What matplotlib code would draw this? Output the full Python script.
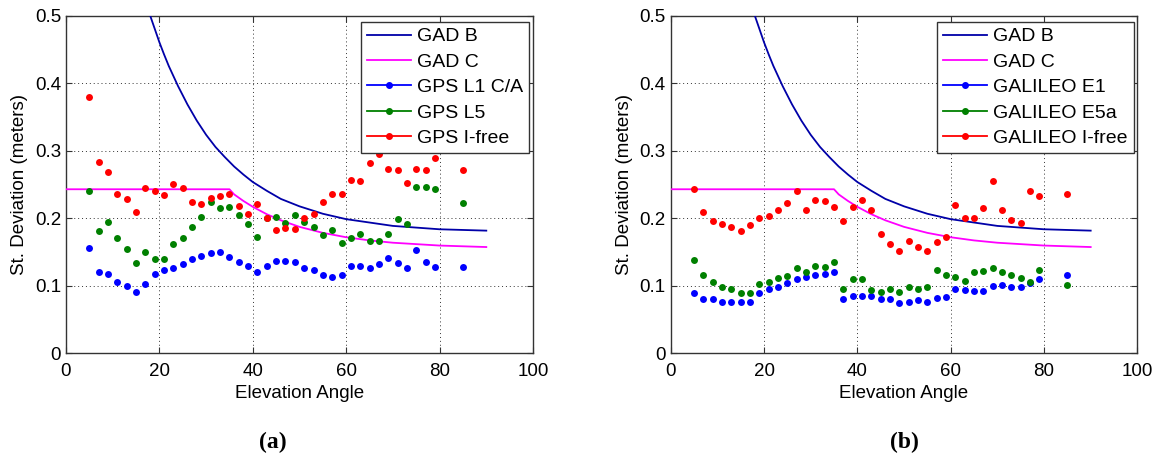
import matplotlib.pyplot as plt
from matplotlib.lines import Line2D

plt.rcParams['font.family'] = ['Liberation Sans', 'DejaVu Sans']

# elevation angles of the measured points (deg)
elev = [5, 7, 9, 11, 13, 15, 17, 19, 21, 23, 25, 27, 29, 31, 33, 35, 37, 39, 41,
        43, 45, 47, 49, 51, 53, 55, 57, 59, 61, 63, 65, 67, 69, 71, 73, 75, 77, 79, 85]

# (a) GPS
gps_l1 = [0.157, 0.120, 0.118, 0.106, 0.100, 0.091, 0.103, 0.118, 0.123, 0.126,
          0.133, 0.140, 0.145, 0.149, 0.150, 0.143, 0.135, 0.129, 0.121, 0.130,
          0.137, 0.137, 0.135, 0.127, 0.123, 0.117, 0.113, 0.117, 0.129, 0.129,
          0.126, 0.133, 0.141, 0.134, 0.126, 0.154, 0.136, 0.128, 0.128]
gps_l5 = [0.240, 0.182, 0.195, 0.171, 0.155, 0.134, 0.150, 0.140, 0.140, 0.162,
          0.171, 0.188, 0.202, 0.225, 0.216, 0.217, 0.205, 0.192, 0.172, 0.200,
          0.202, 0.194, 0.205, 0.195, 0.187, 0.176, 0.183, 0.163, 0.171, 0.177,
          0.167, 0.166, 0.177, 0.199, 0.192, 0.246, 0.246, 0.243, 0.223]
gps_ifree = [0.380, 0.283, 0.269, 0.237, 0.229, 0.209, 0.245, 0.241, 0.235, 0.251,
             0.245, 0.225, 0.221, 0.231, 0.234, 0.237, 0.219, 0.207, 0.222, 0.200,
             0.183, 0.186, 0.185, 0.200, 0.207, 0.225, 0.236, 0.237, 0.257, 0.255,
             0.282, 0.295, 0.274, 0.272, 0.252, 0.274, 0.272, 0.290, 0.272]

# (b) Galileo
gal_e1 = [0.089, 0.081, 0.080, 0.076, 0.076, 0.076, 0.077, 0.090, 0.096, 0.099,
          0.104, 0.111, 0.113, 0.116, 0.118, 0.120, 0.081, 0.085, 0.085, 0.085,
          0.081, 0.081, 0.075, 0.077, 0.079, 0.077, 0.082, 0.084, 0.096, 0.094,
          0.093, 0.093, 0.100, 0.102, 0.099, 0.098, 0.104, 0.110, 0.116]
gal_e5a = [0.139, 0.116, 0.106, 0.098, 0.095, 0.090, 0.089, 0.103, 0.106, 0.112,
           0.115, 0.127, 0.121, 0.130, 0.128, 0.135, 0.096, 0.111, 0.111, 0.094,
           0.091, 0.095, 0.091, 0.099, 0.095, 0.099, 0.123, 0.116, 0.114, 0.108,
           0.120, 0.122, 0.126, 0.121, 0.117, 0.112, 0.106, 0.124, 0.102]
gal_ifree = [0.244, 0.210, 0.197, 0.192, 0.188, 0.182, 0.191, 0.201, 0.204, 0.212,
             0.223, 0.241, 0.212, 0.227, 0.226, 0.217, 0.196, 0.217, 0.228, 0.212,
             0.177, 0.162, 0.152, 0.166, 0.158, 0.152, 0.165, 0.172, 0.220, 0.200,
             0.200, 0.216, 0.255, 0.213, 0.198, 0.194, 0.241, 0.233, 0.236]

# GAD reference curves
gad_b_elev = [18, 19, 20, 21, 22, 23, 24, 26, 28, 30, 32, 34, 36, 38, 40, 43, 46,
              50, 55, 60, 65, 70, 80, 90]
gad_b = [0.501, 0.481, 0.461, 0.443, 0.426, 0.411, 0.396, 0.369, 0.345, 0.324,
         0.306, 0.291, 0.277, 0.265, 0.254, 0.241, 0.229, 0.218, 0.207, 0.199,
         0.194, 0.189, 0.184, 0.182]
gad_c_elev = [0, 35, 36, 38, 40, 43, 46, 50, 55, 60, 65, 70, 80, 90]
gad_c = [0.2433, 0.2433, 0.2357, 0.2259, 0.2173, 0.2063, 0.1973, 0.1876, 0.1787,
         0.1722, 0.1675, 0.1641, 0.1599, 0.1577]

panels = [
    ([0.0567, 0.2231, 0.4012, 0.7418], (gps_l1, gps_l5, gps_ifree),
     ['GPS L1 C/A', 'GPS L5', 'GPS I-free'], '(a)', 0.234),
    ([0.5762, 0.2231, 0.4009, 0.7418], (gal_e1, gal_e5a, gal_ifree),
     ['GALILEO E1', 'GALILEO E5a', 'GALILEO I-free'], '(b)', 0.777),
]
colors = ['#0000ff', '#008000', '#ff0000']
gad_b_col = '#0000a8'
gad_c_col = '#ff00ff'

fig = plt.figure(figsize=(11.64, 4.55), dpi=100)

for rect, series, names, tag, tag_x in panels:
    ax = fig.add_axes(rect)
    ax.plot(gad_b_elev, gad_b, color=gad_b_col, lw=1.3, zorder=3)
    ax.plot(gad_c_elev, gad_c, color=gad_c_col, lw=1.3, zorder=3)
    for vals, c in zip(series, colors):
        ax.plot(elev, vals, 'o', color=c, ms=5, mec='none', zorder=4)

    ax.set_xlim(0, 100)
    ax.set_ylim(0, 0.5)
    ax.set_xticks([0, 20, 40, 60, 80, 100])
    ax.set_yticks([0, 0.1, 0.2, 0.3, 0.4, 0.5])
    ax.set_yticklabels(['0', '0.1', '0.2', '0.3', '0.4', '0.5'])
    ax.grid(True, ls=(0, (1, 3)), color='#333333', lw=0.7)
    ax.tick_params(direction='in', top=True, right=True, labelsize=13.5,
                   length=4, color='#333333')
    ax.tick_params(axis='x', pad=6.5)
    for s in ax.spines.values():
        s.set_color('#333333')
        s.set_linewidth(1.0)
    ax.set_xlabel('Elevation Angle', fontsize=13.5, labelpad=4)
    ax.set_ylabel('St. Deviation (meters)', fontsize=13.5, labelpad=5)

    handles = [Line2D([], [], color=gad_b_col, lw=1.3),
               Line2D([], [], color=gad_c_col, lw=1.3)]
    handles += [Line2D([], [], color=c, lw=1.3, marker='o', ms=4) for c in colors]
    leg = ax.legend(handles, ['GAD B', 'GAD C'] + names, loc='upper right',
                    bbox_to_anchor=(0.992, 0.982), borderaxespad=0, fontsize=14,
                    fancybox=False, framealpha=1, edgecolor='#333333',
                    handlelength=2.3, handletextpad=0.3, labelspacing=0.4,
                    borderpad=0.3)
    leg.get_frame().set_linewidth(1.0)

    fig.text(tag_x, 0.028, tag, ha='center', va='center', fontsize=17,
             fontweight='bold', family='Liberation Serif')

fig.savefig('out.png', dpi=100)
